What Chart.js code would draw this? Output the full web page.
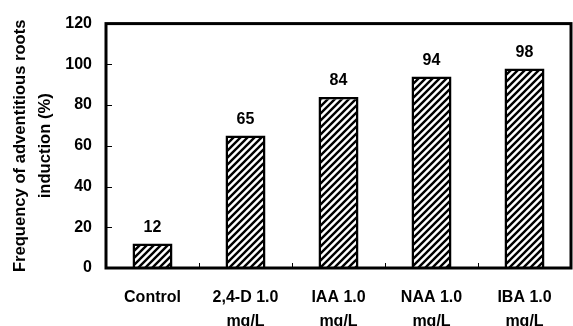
<!DOCTYPE html>
<html>
<head>
<meta charset="utf-8">
<script src="https://cdn.jsdelivr.net/npm/chart.js@4.4.1/dist/chart.umd.min.js"></script>
<style>
html,body{margin:0;padding:0;background:#fff;}
#wrap{width:573px;height:326px;position:relative;}
</style>
</head>
<body>
<div id="wrap"><canvas id="c" width="573" height="326"></canvas></div>
<script>
const categories = [["Control"], ["2,4-D 1.0", "mg/L"], ["IAA 1.0", "mg/L"], ["NAA 1.0", "mg/L"], ["IBA 1.0", "mg/L"]];
const values = [12, 65, 84, 94, 98];
const yTicks = [0, 20, 40, 60, 80, 100, 120];
const yTitle = ["Frequency of adventitious roots", "induction (%)"];

const FONT = "'Liberation Sans', Arial, sans-serif";

function hatch() {
  const s = 7;
  const p = document.createElement('canvas');
  p.width = s; p.height = s;
  const g = p.getContext('2d');
  g.fillStyle = '#fff'; g.fillRect(0, 0, s, s);
  g.strokeStyle = '#000'; g.lineWidth = 2.4; g.lineCap = 'square';
  g.beginPath();
  g.moveTo(0, s); g.lineTo(s, 0);
  g.moveTo(-s / 2, s / 2); g.lineTo(s / 2, -s / 2);
  g.moveTo(s / 2, s * 1.5); g.lineTo(s * 1.5, s / 2);
  g.stroke();
  return g.createPattern(p, 'repeat');
}

const decor = {
  id: 'decor',
  afterDatasetsDraw(chart) {
    const ctx = chart.ctx;
    const a = chart.chartArea;
    const xs = chart.scales.x, ys = chart.scales.y;
    ctx.save();
    ctx.strokeStyle = '#000';
    ctx.lineWidth = 1;
    ys.ticks.forEach((t, i) => {
      const y = Math.round(ys.getPixelForTick(i)) + 0.5;
      ctx.beginPath(); ctx.moveTo(a.left, y); ctx.lineTo(a.left + 6, y); ctx.stroke();
    });
    for (let i = 1; i < categories.length; i++) {
      const x = Math.round((xs.getPixelForValue(i - 1) + xs.getPixelForValue(i)) / 2) + 0.5;
      ctx.beginPath(); ctx.moveTo(x, a.bottom); ctx.lineTo(x, a.bottom - 5); ctx.stroke();
    }
    ctx.lineWidth = 3;
    ctx.strokeRect(a.left, a.top, a.right - a.left, a.bottom - a.top);
    ctx.fillStyle = '#000';
    ctx.font = 'bold 16px ' + FONT;
    ctx.textAlign = 'center';
    ctx.textBaseline = 'middle';
    const meta = chart.getDatasetMeta(0);
    meta.data.forEach((bar, i) => {
      ctx.fillText(String(values[i]), bar.x, bar.y - 16);
    });
    ctx.restore();
  }
};

new Chart(document.getElementById('c'), {
  type: 'bar',
  data: {
    labels: categories,
    datasets: [{
      data: values,
      backgroundColor: hatch(),
      borderColor: '#000',
      borderWidth: 2.5,
      barPercentage: 0.43,
      categoryPercentage: 1
    }]
  },
  options: {
    responsive: false,
    animation: false,
    devicePixelRatio: 1,
    layout: { padding: { top: 20, right: 2, left: 0, bottom: 0 } },
    plugins: { legend: { display: false }, tooltip: { enabled: false } },
    scales: {
      x: {
        grid: { display: false, drawTicks: false },
        border: { display: false },
        ticks: {
          color: '#000',
          font: { family: FONT, size: 16, weight: 'bold', lineHeight: 1.5 },
          padding: 18,
          maxRotation: 0,
          autoSkip: false
        },
        afterFit(s) { s.height = 58; }
      },
      y: {
        min: 0, max: 120,
        afterBuildTicks(s) { s.ticks = yTicks.map(v => ({ value: v })); },
        grid: { display: false, drawTicks: false },
        border: { display: false },
        ticks: {
          color: '#000',
          font: { family: FONT, size: 16, weight: 'bold' },
          padding: 14
        },
        title: {
          display: true,
          text: yTitle,
          color: '#000',
          font: { family: FONT, size: 16.6, weight: 'bold', lineHeight: 1.56 },
          padding: { top: 7, bottom: 0 }
        },
        afterFit(s) { s.width = 106; }
      }
    }
  },
  plugins: [decor]
});
</script>
</body>
</html>
